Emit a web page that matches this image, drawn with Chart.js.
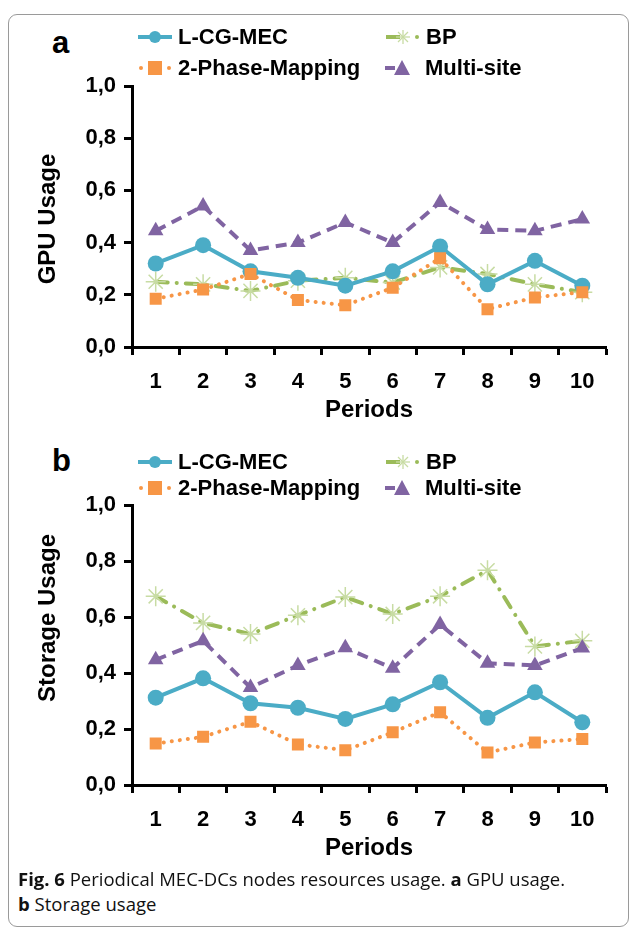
<!DOCTYPE html>
<html>
<head>
<meta charset="utf-8">
<script src="https://cdn.jsdelivr.net/npm/chart.js@4.4.1/dist/chart.umd.min.js"></script>
<style>
  html, body { margin:0; padding:0; background:#fff; }
  body { width:636px; height:931px; position:relative; overflow:hidden; font-family:"Liberation Sans", Arial, sans-serif; }
  .frame { position:absolute; left:8px; top:14px; width:621px; height:913px; border:1px solid #9a9a9a; border-radius:9px; box-sizing:border-box; }
  .cv { position:absolute; left:0; width:636px; }
  .panel { position:absolute; font-weight:bold; font-size:31px; color:#000; }
  .leg { position:absolute; font-weight:bold; font-size:22px; color:#000; white-space:nowrap; display:flex; align-items:center; line-height:1; }
  .leg svg { margin-right:6px; }
  .ytitle { position:absolute; font-weight:bold; font-size:24px; color:#000; white-space:nowrap; line-height:1;
            transform: translate(-50%, -50%) rotate(-90deg); }
  .cap { position:absolute; left:18px; font-family:"Open Sans", "Noto Sans", sans-serif; font-size:18.5px; color:#111; white-space:nowrap; line-height:1.2; }
</style>
</head>
<body>
<div class="frame"></div>

<div class="panel" style="left:52px; top:25px;">a</div>
<div class="panel" style="left:52px; top:443px;">b</div>

<canvas id="cA" class="cv" width="636" height="430" style="top:0px; height:430px;"></canvas>
<canvas id="cB" class="cv" width="636" height="448" style="top:420px; height:448px;"></canvas>

<div class="ytitle" style="left:47px; top:219px;">GPU Usage</div>
<div class="ytitle" style="left:47px; top:618px;">Storage Usage</div>

<div id="legA"></div>
<div id="legB"></div>

<div class="cap" style="top:868px;"><b>Fig. 6</b> Periodical MEC-DCs nodes resources usage. <b>a</b> GPU usage.</div>
<div class="cap" style="top:893px;"><b>b</b> Storage usage</div>

<script>
// ---------- data ----------
const periods = ['1','2','3','4','5','6','7','8','9','10'];
const yTickLabels = ['0,0','0,2','0,4','0,6','0,8','1,0'];
const seriesNames = ['L-CG-MEC','BP','2-Phase-Mapping','Multi-site'];

const gpuLCG   = [0.32, 0.39, 0.29, 0.265, 0.235, 0.29, 0.385, 0.24, 0.33, 0.235];
const gpuBP    = [0.25, 0.24, 0.215, 0.254, 0.265, 0.247, 0.305, 0.28, 0.24, 0.21];
const gpu2P    = [0.185, 0.22, 0.28, 0.18, 0.16, 0.227, 0.34, 0.145, 0.19, 0.21];
const gpuMS    = [0.445, 0.54, 0.37, 0.40, 0.477, 0.40, 0.554, 0.45, 0.445, 0.49];

const stoLCG   = [0.312, 0.381, 0.292, 0.276, 0.236, 0.288, 0.367, 0.24, 0.331, 0.224];
const stoBP    = [0.674, 0.579, 0.539, 0.606, 0.671, 0.611, 0.674, 0.767, 0.495, 0.515];
const sto2P    = [0.148, 0.172, 0.226, 0.145, 0.124, 0.188, 0.26, 0.116, 0.152, 0.164];
const stoMS    = [0.447, 0.515, 0.348, 0.427, 0.49, 0.417, 0.573, 0.435, 0.427, 0.489];

// ---------- styles ----------
const C_BLUE = '#4bacc6', C_GREEN = '#9bbb59', C_STAR = '#c8dca4', C_ORANGE = '#f79646', C_PURPLE = '#8064a2';
const FONT = "'Liberation Sans', Arial, sans-serif";

function datasets(lcg, bp, p2, ms) {
  return [
    { label: seriesNames[2], data: p2, borderColor: C_ORANGE, backgroundColor: C_ORANGE, borderWidth: 4,
      borderDash: [0.1, 8], borderCapStyle: 'round', pointStyle: 'rect', pointRadius: 8.5,
      pointBackgroundColor: C_ORANGE, pointBorderColor: C_ORANGE, pointBorderWidth: 0 },
    { label: seriesNames[0], data: lcg, borderColor: C_BLUE, backgroundColor: C_BLUE, borderWidth: 4,
      pointStyle: 'circle', pointRadius: 8, pointBackgroundColor: C_BLUE, pointBorderColor: C_BLUE, pointBorderWidth: 0 },
    { label: seriesNames[3], data: ms, borderColor: C_PURPLE, backgroundColor: C_PURPLE, borderWidth: 4,
      borderDash: [11, 7], pointStyle: 'triangle', pointRadius: 9, pointBackgroundColor: C_PURPLE,
      pointBorderColor: C_PURPLE, pointBorderWidth: 0 },
    { label: seriesNames[1], data: bp, borderColor: C_GREEN, backgroundColor: C_GREEN, borderWidth: 4,
      borderDash: [12, 9, 0.1, 9], borderCapStyle: 'round', pointStyle: 'star', pointRadius: 10,
      pointBackgroundColor: C_STAR, pointBorderColor: C_STAR, pointBorderWidth: 1.5 }
  ];
}

function makeChart(id, ds, padTop) {
  const AX_LEFT = 132, PAD_L = 30, PAD_R = 30, PAD_B = 3;
  return new Chart(document.getElementById(id), {
    type: 'line',
    data: { labels: periods, datasets: ds },
    options: {
      responsive: false, animation: false, devicePixelRatio: 1,
      layout: { padding: { left: PAD_L, right: PAD_R, top: padTop, bottom: PAD_B } },
      plugins: { legend: { display: false }, tooltip: { enabled: false } },
      elements: { line: { tension: 0 } },
      scales: {
        x: {
          type: 'category', offset: true,
          grid: { offset: true, drawOnChartArea: false, drawTicks: true, tickLength: 8, tickWidth: 3, tickColor: '#000' },
          border: { display: true, color: '#000', width: 3 },
          ticks: { color: '#000', font: { family: FONT, size: 22, weight: 'bold' }, padding: 14, maxRotation: 0 },
          title: { display: true, text: 'Periods', color: '#000', font: { family: FONT, size: 24, weight: 'bold' }, padding: { top: 0, bottom: 2 } },
          afterFit: s => { s.height = 80; }
        },
        y: {
          min: 0, max: 1,
          grid: { drawOnChartArea: false, drawTicks: true, tickLength: 8, tickWidth: 3, tickColor: '#000' },
          border: { display: true, color: '#000', width: 3 },
          ticks: { stepSize: 0.2, color: '#000', font: { family: FONT, size: 22, weight: 'bold' }, padding: 8,
                   callback: (v, i) => yTickLabels[i] },
          afterFit: s => { s.width = AX_LEFT - PAD_L; }
        }
      }
    }
  });
}

makeChart('cA', datasets(gpuLCG, gpuBP, gpu2P, gpuMS), 86);
makeChart('cB', datasets(stoLCG, stoBP, sto2P, stoMS), 85);

// ---------- HTML legends ----------
function icon(kind) {
  const w = 34, h = 16, cy = 8;
  let line = '', mark = '';
  if (kind === 0) { line = `<line x1="0" y1="${cy}" x2="${w}" y2="${cy}" stroke="${C_BLUE}" stroke-width="4"/>`;
    mark = `<circle cx="17" cy="${cy}" r="6" fill="${C_BLUE}"/>`; }
  if (kind === 1) { line = `<line x1="0" y1="${cy}" x2="14" y2="${cy}" stroke="${C_GREEN}" stroke-width="4"/><circle cx="31" cy="${cy}" r="2" fill="${C_GREEN}"/>`;
    mark = `<g stroke="${C_STAR}" stroke-width="1.3"><line x1="17" y1="1" x2="17" y2="15"/><line x1="10" y1="${cy}" x2="24" y2="${cy}"/><line x1="12" y1="3" x2="22" y2="13"/><line x1="12" y1="13" x2="22" y2="3"/></g>`; }
  if (kind === 2) { line = `<circle cx="3" cy="${cy}" r="2" fill="${C_ORANGE}"/><circle cx="31" cy="${cy}" r="2" fill="${C_ORANGE}"/>`;
    mark = `<rect x="10" y="1" width="14" height="14" fill="${C_ORANGE}"/>`; }
  if (kind === 3) { line = `<line x1="0" y1="${cy}" x2="10" y2="${cy}" stroke="${C_PURPLE}" stroke-width="4"/>`;
    mark = `<polygon points="17,0 25,15 9,15" fill="${C_PURPLE}"/>`; }
  return `<svg width="${w}" height="${h}" viewBox="0 0 ${w} ${h}">${line}${mark}</svg>`;
}
function legend(hostId, top1, top2) {
  const host = document.getElementById(hostId);
  const items = [
    [0, 138, top1, seriesNames[0]], [1, 386, top1, seriesNames[1]],
    [2, 138, top2, seriesNames[2]], [3, 385, top2, seriesNames[3]]
  ];
  host.innerHTML = items.map(([k, x, y, t]) =>
    `<div class="leg" style="left:${x}px; top:${y}px;">${icon(k)}<span>${t}</span></div>`).join('');
}
legend('legA', 26, 57);
legend('legB', 451, 477);
</script>
</body>
</html>
